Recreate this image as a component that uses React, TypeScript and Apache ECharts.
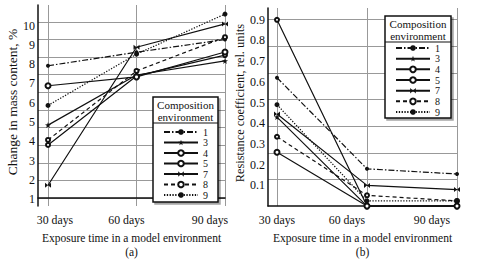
import React, { useEffect, useRef } from 'react';
import * as echarts from 'echarts';

// ---- data ----
const days = [30, 60, 90];
const dayLabels = ['30 days', '60 days', '90 days'];
const seriesNames = ['1', '3', '4', '5', '7', '8', '9'];
const legendTitle = 'Composition\nenvironment';
const leftXTitle = 'Exposure time in a model environment\n(a)';
const rightXTitle = 'Exposure time in a model environment\n(b)';
const leftYTitle = 'Change in mass content, %';
const rightYTitle = 'Resistance coefficient, rel. units';

// (a) change in mass content, %
const mass1 = [7.92, 8.62, 9.28];
const mass3 = [4.84, 7.44, 8.17];
const mass4 = [3.81, 7.39, 8.47];
const mass5 = [6.88, 7.34, 8.63];
const mass7 = [1.72, 8.88, 10.09];
const mass8 = [4.07, 7.65, 9.4];
const mass9 = [5.86, 8.52, 10.6];

// (b) resistance coefficient, rel. units
const res1 = [0.62, 0.18, 0.155];
const res3 = [0.43, 0.0, 0.0];
const res4 = [0.9, 0.0, 0.0];
const res5 = [0.26, 0.0, 0.0];
const res7 = [0.445, 0.1, 0.08];
const res8 = [0.335, 0.052, 0.025];
const res9 = [0.49, 0.025, 0.025];

const massSeries = [mass1, mass3, mass4, mass5, mass7, mass8, mass9];
const resSeries = [res1, res3, res4, res5, res7, res8, res9];

// ---- styles ----
const FONT = 'Liberation Serif';
const INK = '#111';
const GRID = '#999';
const STAR =
  'path://M0,-10L2.35,-3.24L9.51,-3.09L3.8,1.24L5.88,8.09L0,4L-5.88,8.09L-3.8,1.24L-9.51,-3.09L-2.35,-3.24Z';
const BOWTIE = 'path://M-5,-4L0,0L-5,4Z M5,-4L0,0L5,4Z';

const looks: any[] = [
  { symbol: 'circle', symbolSize: 4, type: [6, 2, 1.5, 2], bw: 0 },
  { symbol: STAR, symbolSize: 6, type: 'solid', bw: 0 },
  { symbol: 'emptyCircle', symbolSize: 4, type: 'solid', bw: 1.8 },
  { symbol: 'emptyCircle', symbolSize: 5, type: 'solid', bw: 1 },
  { symbol: BOWTIE, symbolSize: [6, 5], type: 'solid', bw: 0 },
  { symbol: 'emptyCircle', symbolSize: 4, type: [4, 3], bw: 1 },
  { symbol: 'circle', symbolSize: 5, type: [1.3, 1.5], bw: 0 },
];

function makeSeries(values: number[][], xi: number, yi: number) {
  return values.map((vals, k) => ({
    name: seriesNames[k],
    type: 'line',
    xAxisIndex: xi,
    yAxisIndex: yi,
    data: days.map((d, i) => [d, vals[i]]),
    symbol: looks[k].symbol,
    symbolSize: looks[k].symbolSize,
    showAllSymbol: true,
    lineStyle: { color: INK, width: 1.2, type: looks[k].type },
    itemStyle: { color: INK, borderColor: INK, borderWidth: looks[k].bw },
    emphasis: { disabled: true },
  }));
}

function pad(p: number) {
  return [0, p < 0 ? -2 * p : 0, 0, p > 0 ? 2 * p : 0];
}

function xAxisFor(gridIndex: number, min: number, name: string, gap: number, pads: number[]) {
  const base = { fontFamily: FONT, fontSize: 11.8, color: INK };
  return {
    gridIndex,
    type: 'value',
    min,
    max: 90,
    splitNumber: 2,
    axisLine: { show: true, lineStyle: { color: INK, width: 1.5 } },
    axisTick: { show: false },
    splitLine: { show: true, showMinLine: false, lineStyle: { color: GRID, width: 1 } },
    axisLabel: {
      margin: 8,
      showMinLabel: false,
      ...base,
      formatter: (v: number) => {
        const i = days.indexOf(Math.round(v * 1000) / 1000);
        return i >= 0 ? `{p${i}|${dayLabels[i]}}` : '';
      },
      rich: {
        p0: { ...base, padding: pad(pads[0]) },
        p1: { ...base, padding: pad(pads[1]) },
        p2: { ...base, padding: pad(pads[2]) },
      },
    },
    name,
    nameLocation: 'middle',
    nameGap: gap,
    nameTextStyle: { fontFamily: FONT, fontSize: 11.5, color: INK, lineHeight: 14 },
  };
}

function gridAxis(gridIndex: number, min: number, max: number, splitNumber: number) {
  return {
    gridIndex,
    type: 'value',
    position: 'right',
    min,
    max,
    splitNumber,
    axisLine: { show: false },
    axisTick: { show: false },
    axisLabel: { show: false },
    splitLine: { show: true, showMinLine: false, showMaxLine: false, lineStyle: { color: GRID, width: 1 } },
  };
}

function legendBox(x: number, y: number, w: number, h: number, sep: number) {
  return [
    {
      type: 'rect',
      z: 50,
      shape: { x, y, width: w, height: h },
      style: {
        fill: '#fff',
        stroke: INK,
        lineWidth: 1.5,
        shadowColor: 'rgba(0,0,0,0.35)',
        shadowOffsetX: 2,
        shadowOffsetY: 2,
        shadowBlur: 1,
      },
    },
    {
      type: 'line',
      z: 51,
      shape: { x1: x, y1: sep, x2: x + w, y2: sep },
      style: { stroke: INK, lineWidth: 1.2 },
    },
    {
      type: 'text',
      z: 51,
      x: x + w / 2,
      y: y + 2,
      style: {
        text: legendTitle,
        fontFamily: FONT,
        fontSize: 11,
        lineHeight: 12,
        fill: INK,
        align: 'center',
        textAlign: 'center',
        verticalAlign: 'top',
        textVerticalAlign: 'top',
      },
    },
  ];
}

function legendFor(left: number, top: number, gap: number) {
  return {
    data: seriesNames,
    orient: 'vertical',
    left,
    top,
    itemWidth: 34,
    itemHeight: 7,
    itemGap: gap,
    padding: 0,
    z: 100,
    selectedMode: false,
    textStyle: { fontFamily: FONT, fontSize: 10, color: INK, lineHeight: 10 },
  };
}

export default function App() {
  const ref = useRef<HTMLDivElement>(null);
  useEffect(() => {
    if (!ref.current) return;
    const chart = echarts.init(ref.current, undefined, { renderer: 'svg' });
    const yLabel = {
      margin: 3,
      fontFamily: FONT,
      fontSize: 12,
      color: INK,
      showMinLabel: false,
      showMaxLabel: false,
    };
    chart.setOption({
      animation: false,
      backgroundColor: '#fff',
      textStyle: { fontFamily: FONT },
      grid: [
        { left: 38, top: 5, width: 187, height: 204 },
        { left: 268, top: 8, width: 189, height: 203 },
      ],
      xAxis: [
        xAxisFor(0, 26.6, leftXTitle, 25, [7, -10, -15]),
        xAxisFor(1, 27, rightXTitle, 23, [0, -20, -25]),
      ],
      yAxis: [
        {
          gridIndex: 0,
          type: 'value',
          min: 0.644,
          max: 11.07,
          splitNumber: 10,
          axisLine: { show: true, lineStyle: { color: INK, width: 1.5 } },
          axisTick: { show: false },
          splitLine: { show: false },
          axisLabel: {
            ...yLabel,
            formatter: (v: number) =>
              Math.abs(v - Math.round(v)) < 1e-6 && v > 0.5 && v < 10.5 ? String(Math.round(v)) : '',
          },
          name: leftYTitle,
          nameLocation: 'middle',
          nameGap: 18,
          nameTextStyle: { fontFamily: FONT, fontSize: 13.5, color: INK, padding: [0, 0, 0, 7] },
        },
        gridAxis(0, -0.447, 10.95, 11),
        {
          gridIndex: 1,
          type: 'value',
          min: 0,
          max: 0.957,
          splitNumber: 10,
          axisLine: { show: true, lineStyle: { color: INK, width: 1.5 } },
          axisTick: { show: false },
          splitLine: { show: false },
          axisLabel: {
            ...yLabel,
            formatter: (v: number) =>
              v > 0.05 && v < 0.95 && Math.abs(v * 10 - Math.round(v * 10)) < 1e-6 ? v.toFixed(1) : '',
          },
          name: rightYTitle,
          nameLocation: 'middle',
          nameGap: 17,
          nameTextStyle: { fontFamily: FONT, fontSize: 12.4, color: INK, padding: [0, 0, 0, 8] },
        },
        gridAxis(1, 0, 7.44, 7),
      ],
      legend: [legendFor(163, 127, 0.5), legendFor(395, 43, 0.67)],
      graphic: [...legendBox(153, 97, 65, 105, 123), ...legendBox(385, 16, 66, 102, 42)],
      series: [...makeSeries(massSeries, 0, 0), ...makeSeries(resSeries, 1, 2)],
    });
    return () => chart.dispose();
  }, []);
  return (
    <div
      ref={ref}
      style={{ position: 'fixed', left: 0, top: 0, width: 480, height: 264, background: '#fff' }}
    />
  );
}
